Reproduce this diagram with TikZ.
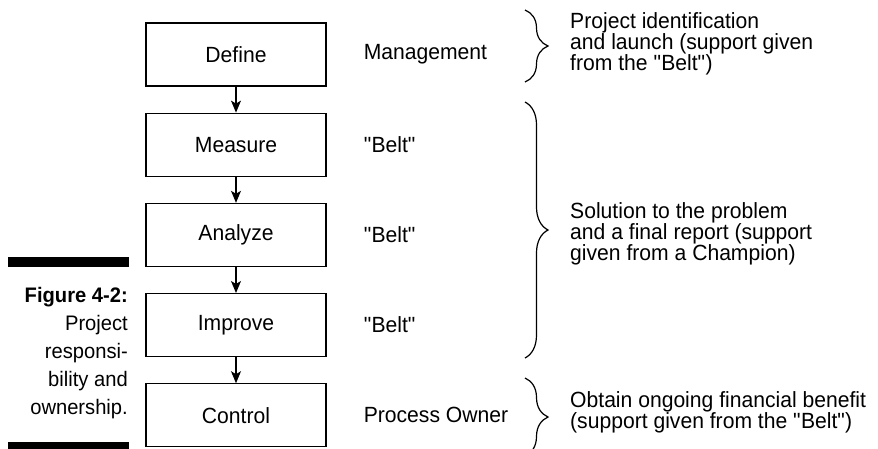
\documentclass[tikz,border=0pt]{standalone}
\usepackage{fontspec}
\setmainfont{Liberation Sans}[FakeStretch=0.96]
\usetikzlibrary{positioning,arrows.meta,decorations.pathreplacing}

\begin{document}
\begin{tikzpicture}[x=1pt,y=-1pt,
      font=\fontsize{22}{21}\selectfont,
      phase/.style={draw,line width=1.2pt,minimum width=180pt,minimum height=63pt,inner sep=0pt},
      role/.style={inner sep=0pt,anchor=west},
      note/.style={inner sep=0pt,anchor=west,align=left},
      flow/.style={line width=1.2pt,-{Stealth[length=12pt,width=10pt,inset=3pt]}},
      curly/.style={line width=1.2pt,decorate,decoration={brace,amplitude=23pt}},
      node distance=26pt]
   \useasboundingbox (0,0) rectangle (878,448);

   \node[phase] (define) at (236,54.5) {Define};
   \node[phase,below=of define] (measure) {Measure};
   \node[phase,below=of measure] (analyze) {Analyze};
   \node[phase,below=of analyze] (improve) {Improve};
   \node[phase,below=of improve] (control) {Control};

   \draw[flow] (define) -- (measure);
   \draw[flow] (measure) -- (analyze);
   \draw[flow] (analyze) -- (improve);
   \draw[flow] (improve) -- (control);

   \node[role,right=37pt of define] (mgmt) {Management};
   \node[role,right=37pt of measure] (belta) {\textquotedbl Belt\textquotedbl};
   \node[role,right=37pt of analyze] (beltb) {\textquotedbl Belt\textquotedbl};
   \node[role,right=37pt of improve] (beltc) {\textquotedbl Belt\textquotedbl};
   \node[role,right=37pt of control] (owner) {Process Owner};

   \draw[curly] (525,10) -- (525,82);
   \draw[curly] (525,102) -- (525,358);
   \draw[curly] (525,378) -- (525,456);

   \node[note] (launch) at (570,44) {Project identification\\and launch (support given\\from the \textquotedbl Belt\textquotedbl)};
   \node[note] (solve) at (570,234) {Solution to the problem\\and a final report (support\\given from a Champion)};
   \node[note] (benefit) at (570,412) {Obtain ongoing financial benefit\\(support given from the \textquotedbl Belt\textquotedbl)};

   % figure caption
   \fill (8,257) rectangle (129,267);
   \fill (8,442) rectangle (129,452);
   \node[inner sep=0pt,anchor=north east,align=right,font=\fontsize{21}{28}\selectfont] (caption) at (128,287)
      {\textbf{Figure 4-2:}\\Project\\responsi-\\bility and\\ownership.};
\end{tikzpicture}
\end{document}
